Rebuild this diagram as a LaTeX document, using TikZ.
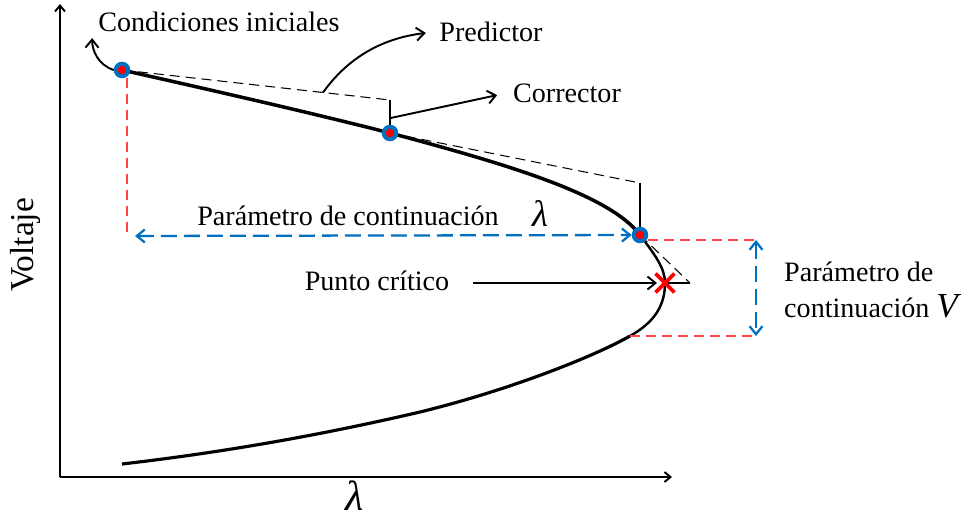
\documentclass[tikz,border=0pt]{standalone}
\usepackage{fontspec}
\setmainfont{Liberation Serif}
\usepackage{tikz}
\usetikzlibrary{positioning,arrows.meta,calc,shapes.misc}
\definecolor{ptblue}{RGB}{0,112,192}
\definecolor{ptred}{RGB}{255,0,0}
\definecolor{guidered}{RGB}{255,70,70}

\tikzset{
  solpt/.style={circle,draw=ptblue,line width=0.8mm,fill=ptred,minimum size=2.5mm,inner sep=0},
  tangent/.style={dashed,dash pattern=on 2mm off 1.2mm,line width=0.6pt},
  guide/.style={guidered,dash pattern=on 2mm off 1.2mm,line width=0.7pt},
  param/.style={ptblue,dash pattern=on 3.2mm off 1.4mm,line width=1.3pt},
  lw/.style={line width=1.1pt}
}

\begin{document}
\begin{tikzpicture}[x=0.02cm,y=-0.02cm,font=\fontsize{16}{21}\selectfont,>={Straight Barb[length=1.6mm,width=2.6mm]}]
  \useasboundingbox (0,0) rectangle (964,518);
  % axes
  \coordinate (o) at (60,477);
  \coordinate (ytop) at (60,4);
  \coordinate (xend) at (672,477);
  \draw[lw,-{Straight Barb[length=1.2mm,width=2mm]}] (o) -- (ytop);
  \draw[lw,-{Straight Barb[length=1.2mm,width=2mm]}] (o) -- (xend);
  \node[rotate=90,font=\fontsize{19}{20}\selectfont] (volt) at (25,245) {Voltaje};
  \node[font=\fontsize{24}{24}\selectfont] (lamx) at (355,496) {\textit{λ}};

  % solution points, tangent tips, critical point
  \foreach \n/\x/\y in {p1/122/70,p2/390/133,p3/640/235}
    \coordinate (\n) at (\x,\y);
  \coordinate (t1) at (390,100);
  \coordinate (t2) at (640,183);
  \coordinate (t3) at (690,283);
  \coordinate (crit) at (665,283);
  \coordinate (lowV) at (630,336);

  % PV curve
  \draw[line width=2pt] (p1) .. controls (220,92) and (320,115) .. (p2)
    .. controls (510,165) and (610,195) .. (p3);
  \draw[line width=1.4pt] (p3) .. controls (655,255) and (665,268) .. (crit)
    .. controls (665,305) and (655,322) .. (lowV);
  \draw[line width=1.8pt] (lowV) .. controls (595,356) and (510,390) .. (420,412)
    .. controls (300,440) and (200,455) .. (122,464);

  % predictor / corrector steps
  \draw[tangent] (p1) -- (t1);
  \draw[lw] (t1) -- (p2);
  \draw[tangent] (p2) -- (t2);
  \draw[lw] (t2) -- (p3);
  \draw[tangent] (p3) -- (t3);
  \draw[lw] (t3) -- (crit);

  \foreach \n in {p1,p2,p3}
    \node[solpt] (d\n) at (\n) {};
  \node[cross out,draw=ptred,line width=2.2pt,minimum size=3mm,inner sep=0] (x) at (crit) {};

  % continuation parameters
  \coordinate (lam0) at (127,236);
  \coordinate (vtop) at (756,240);
  \coordinate (vbot) at (756,336);
  \draw[guide] (dp1.south -| lam0) -- (lam0);
  \draw[param,<->,shorten <=1.6mm] (lam0) -- (dp3);
  \draw[guide] (dp3.east |- vtop) -- (vtop);
  \draw[guide] (lowV) -- (vbot);
  \draw[param,<->] (vtop) -- (vbot);

  % labels
  \node (cond) at (219,22) {Condiciones iniciales};
  \node (pred) at (491,32) {Predictor};
  \node (corr) at (567,93) {Corrector};
  \node (punto) at (377,281) {Punto crítico};
  \node (parl) at (348,216) {Parámetro de continuación};
  \node[font=\fontsize{21}{21}\selectfont] (lamt) at (540,214) {\textit{λ}};
  \node[anchor=west,align=left] (parV) at (778,290) {Parámetro de\\continuación {\fontsize{20}{20}\selectfont\textit{V}}};

  \draw[lw,->] (dp1.west) .. controls (98,65) and (92,50) .. (cond.south west);
  \draw[lw,->,shorten >=1.5mm] ($(p1)!0.75!(t1)$) .. controls (350,55) and (385,38) .. (pred.west);
  \draw[lw,->,shorten >=2mm] ($(t1)!0.55!(p2)$) -- (corr.west);
  \draw[lw,->,shorten >=1.6mm] ($(punto.east)+(18,2)$) -- (crit);
\end{tikzpicture}
\end{document}
